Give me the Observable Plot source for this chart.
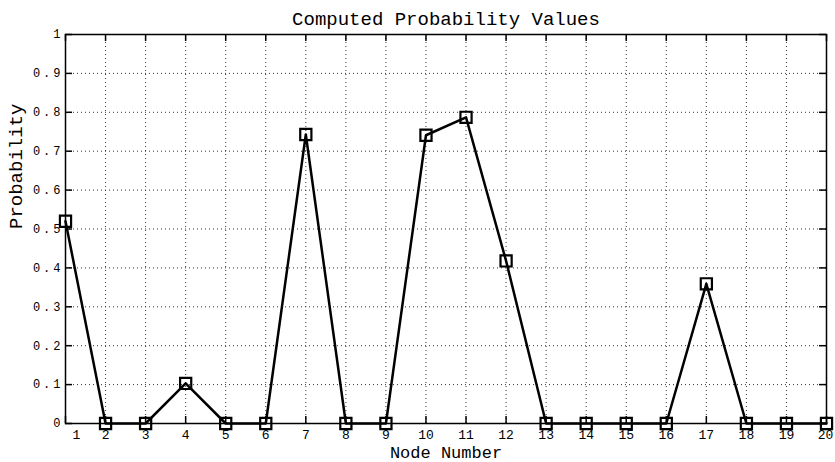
<!DOCTYPE html>
<html>
<head>
<meta charset="utf-8">
<script src="https://cdn.jsdelivr.net/npm/d3@7"></script>
<script src="https://cdn.jsdelivr.net/npm/@observablehq/plot@0.6"></script>
<style>
  html, body { margin: 0; padding: 0; background: white; }
  #chart svg { display: block; }
  #chart g[aria-label="y-axis tick label"] text { letter-spacing: 3px; }
</style>
</head>
<body>
<div id="chart"></div>
<script>
const titleText = "Computed Probability Values";
const xLabelText = "Node Number";
const yLabelText = "Probability";

const nodes = [1, 2, 3, 4, 5, 6, 7, 8, 9, 10, 11, 12, 13, 14, 15, 16, 17, 18, 19, 20];
const probabilities = [0.52, 0, 0, 0.103, 0, 0, 0.743, 0, 0, 0.741, 0.787, 0.418, 0, 0, 0, 0, 0.359, 0, 0, 0];
const xTickLabels = ["1","2","3","4","5","6","7","8","9","10","11","12","13","14","15","16","17","18","19","20"];
const yTicks = [0, 0.1, 0.2, 0.3, 0.4, 0.5, 0.6, 0.7, 0.8, 0.9, 1];
const yTickLabels = ["0","0.1","0.2","0.3","0.4","0.5","0.6","0.7","0.8","0.9","1"];

const data = nodes.map((n, i) => ({node: n, p: probabilities[i]}));

const W = 835, H = 462;
const mL = 65, mR = 9, mT = 34, mB = 39;
const frameW = W - mL - mR, frameH = H - mT - mB;
const tickLen = 7;
const gridStyle = {stroke: "#333", strokeOpacity: 1, strokeWidth: 1, strokeDasharray: "1,3"};

const chart = Plot.plot({
  width: W,
  height: H,
  marginLeft: mL,
  marginRight: mR,
  marginTop: mT,
  marginBottom: mB,
  style: {fontFamily: "'Liberation Mono', monospace", fontSize: "12px", background: "white", color: "black"},
  x: {domain: [1, 20], axis: null},
  y: {domain: [0, 1], axis: null},
  marks: [
    Plot.ruleX(nodes, {x: d => d, ...gridStyle}),
    Plot.ruleY(yTicks, {y: d => d, ...gridStyle}),
    Plot.frame({stroke: "black", strokeWidth: 1.5}),
    Plot.ruleX(nodes, {x: d => d, insetTop: frameH - tickLen, stroke: "black", strokeWidth: 1.5}),
    Plot.ruleX(nodes, {x: d => d, insetBottom: frameH - tickLen, stroke: "black", strokeWidth: 1.5}),
    Plot.ruleY(yTicks, {y: d => d, insetRight: frameW - tickLen, stroke: "black", strokeWidth: 1.5}),
    Plot.ruleY(yTicks, {y: d => d, insetLeft: frameW - tickLen, stroke: "black", strokeWidth: 1.5}),
    Plot.axisX({ticks: nodes.slice(1, 19), tickSize: 0, tickPadding: 6, tickFormat: d => xTickLabels[d - 1], label: null, fontSize: 13}),
    Plot.axisX({ticks: nodes.slice(19), tickSize: 0, tickPadding: 6, dx: -1, tickFormat: d => xTickLabels[d - 1], label: null, fontSize: 13}),
    Plot.axisX({ticks: nodes.slice(0, 1), tickSize: 0, tickPadding: 6, dx: 11, tickFormat: d => xTickLabels[d - 1], label: null, fontSize: 13}),
    Plot.axisY({ticks: yTicks, tickSize: 0, tickPadding: 2, tickFormat: d => yTickLabels[yTicks.indexOf(d)], label: null, fontSize: 12}),
    Plot.line(data, {x: "node", y: "p", stroke: "black", strokeWidth: 2.5}),
    Plot.dot(data, {x: "node", y: "p", symbol: "square", r: 6.3, stroke: "black", strokeWidth: 2.2, fill: "none"}),
    Plot.text([titleText], {frameAnchor: "top", dy: -10, lineAnchor: "bottom", fontSize: 19, text: d => d}),
    Plot.text([xLabelText], {frameAnchor: "bottom", dy: 34, lineAnchor: "bottom", fontSize: 17, text: d => d}),
    Plot.text([yLabelText], {frameAnchor: "left", dx: -50, rotate: -90, lineAnchor: "middle", fontSize: 19, text: d => d})
  ]
});
document.getElementById("chart").appendChild(chart);
</script>
</body>
</html>
